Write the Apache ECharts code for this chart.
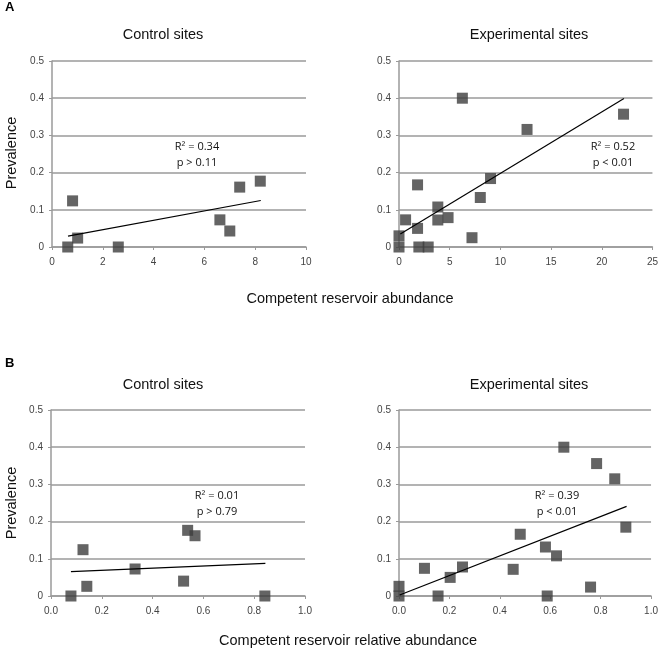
<!DOCTYPE html>
<html><head><meta charset="utf-8">
<script src="https://cdn.jsdelivr.net/npm/echarts@6/dist/echarts.min.js"></script>
<style>html,body{margin:0;padding:0;background:#fff}#c{width:661px;height:649px}</style>
</head><body><div id="c"></div>
<script>
// Panel A control: competent reservoir abundance vs prevalence
const aCtrlX = [0.62, 0.81, 1.01, 2.61, 6.61, 7.0, 7.39, 8.2];
const aCtrlY = [0, 0.124, 0.024, 0, 0.073, 0.043, 0.161, 0.177];
const aCtrlTrendX = [0.63, 8.22];
const aCtrlTrendY = [0.029, 0.125];
// Panel A experimental
const aExpX = [0, 0, 0.65, 1.83, 1.83, 1.96, 2.88, 3.83, 3.83, 4.84, 7.2, 8.02, 9.03, 6.25, 12.63, 22.15];
const aExpY = [0, 0.03, 0.073, 0.167, 0.05, 0, 0, 0.1075, 0.0726, 0.079, 0.025, 0.133, 0.184, 0.40, 0.316, 0.357];
const aExpTrendX = [0.13, 22.19];
const aExpTrendY = [0.035, 0.399];
// Panel B control: relative abundance
const bCtrlX = [0.0785, 0.126, 0.141, 0.331, 0.522, 0.538, 0.567, 0.842];
const bCtrlY = [0, 0.1245, 0.026, 0.0726, 0.040, 0.1765, 0.162, 0];
const bCtrlTrendX = [0.0785, 0.844];
const bCtrlTrendY = [0.0654, 0.0878];
// Panel B experimental
const bExpX = [0, 0, 0.101, 0.155, 0.203, 0.252, 0.453, 0.481, 0.581, 0.588, 0.625, 0.654, 0.760, 0.784, 0.856, 0.900];
const bExpY = [0, 0.026, 0.0744, 0, 0.050, 0.078, 0.0717, 0.166, 0.1317, 0, 0.108, 0.40, 0.024, 0.356, 0.315, 0.185];
const bExpTrendX = [0.0026, 0.903];
const bExpTrendY = [0.0027, 0.241];

const titles = ['Control sites', 'Experimental sites', 'Control sites', 'Experimental sites'];
const stats = [['R² = 0.34', 'p > 0.11'], ['R² = 0.52', 'p < 0.01'], ['R² = 0.01', 'p > 0.79'], ['R² = 0.39', 'p < 0.01']];
const xRanges = [[0, 10, 2], [0, 25, 5], [0, 1, 0.2], [0, 1, 0.2]];

const zip = (xs, ys) => xs.map((x, i) => [x, ys[i]]);
const panels = [
  [aCtrlX, aCtrlY, aCtrlTrendX, aCtrlTrendY],
  [aExpX, aExpY, aExpTrendX, aExpTrendY],
  [bCtrlX, bCtrlY, bCtrlTrendX, bCtrlTrendY],
  [bExpX, bExpY, bExpTrendX, bExpTrendY]
];
const grids = [
  {left: 52, top: 61, width: 254, height: 186},
  {left: 399, top: 61, width: 255, height: 186},
  {left: 51, top: 410, width: 254, height: 186},
  {left: 399, top: 410, width: 254, height: 186}
];
const gridColor = '#9a9a9a';
const labelStyle = {color: '#444', fontFamily: 'Liberation Sans, Arial', fontSize: 10};

const xAxis = xRanges.map((r, i) => ({
  type: 'value', gridIndex: i, min: r[0], max: r[1], interval: r[2],
  axisLine: {show: true, onZero: false, lineStyle: {color: gridColor, width: 1.5}},
  axisTick: {show: true, length: 3, lineStyle: {color: gridColor, width: 1}},
  splitLine: {show: false},
  axisLabel: Object.assign({margin: 10, formatter: v => (i >= 2 ? v.toFixed(1) : String(Math.round(v)))}, labelStyle)
}));
const yAxis = grids.map((g, i) => ({
  type: 'value', gridIndex: i, min: 0, max: 0.5, interval: 0.1,
  axisLine: {show: true, lineStyle: {color: gridColor, width: 1.5}},
  axisTick: {show: true, length: 3, lineStyle: {color: gridColor, width: 1}},
  splitLine: {show: true, lineStyle: {color: gridColor, width: 1.5}},
  axisLabel: Object.assign({margin: 8, formatter: v => (v === 0 ? '0' : v.toFixed(1))}, labelStyle)
}));

const series = [];
panels.forEach((p, i) => {
  series.push({
    type: 'scatter', xAxisIndex: i, yAxisIndex: i, data: zip(p[0], p[1]),
    symbol: 'rect', symbolSize: 11, itemStyle: {color: '#3d3d3d'}, z: 3
  });
  series.push({
    type: 'line', xAxisIndex: i, yAxisIndex: i, data: zip(p[2], p[3]),
    symbol: 'none', lineStyle: {color: '#000', width: 1.2}, z: 4, silent: true
  });
});

const titleCenters = [[163, 35], [529, 35], [163, 385], [529, 385]];
const statPos = [[197, 147], [613, 147], [217, 496], [557, 496]];
const graphic = [];
titleCenters.forEach((c, i) => graphic.push({
  type: 'text', x: c[0], y: c[1],
  style: {text: titles[i], fill: '#111', font: '14.5px "Liberation Sans", Arial', textAlign: 'center', textVerticalAlign: 'middle'}
}));
statPos.forEach((c, i) => {
  graphic.push({type: 'text', x: c[0], y: c[1], z: 10,
    style: {text: stats[i][0], fill: '#111', font: '11px "Open Sans", sans-serif', textAlign: 'center', textVerticalAlign: 'middle'}});
  graphic.push({type: 'text', x: c[0], y: c[1] + 16, z: 10,
    style: {text: stats[i][1], fill: '#111', font: '11px "Open Sans", sans-serif', textAlign: 'center', textVerticalAlign: 'middle'}});
});
graphic.push({type: 'text', x: 5, y: 7, style: {text: 'A', fill: '#000', font: 'bold 13px "Liberation Sans", Arial', textAlign: 'left', textVerticalAlign: 'middle'}});
graphic.push({type: 'text', x: 5, y: 363, style: {text: 'B', fill: '#000', font: 'bold 13px "Liberation Sans", Arial', textAlign: 'left', textVerticalAlign: 'middle'}});
[153, 503].forEach(y => graphic.push({type: 'text', x: 12, y: y, rotation: Math.PI / 2,
  style: {text: 'Prevalence', fill: '#111', font: '14.5px "Liberation Sans", Arial', textAlign: 'center', textVerticalAlign: 'middle'}}));
graphic.push({type: 'text', x: 350, y: 299, style: {text: 'Competent reservoir abundance', fill: '#111', font: '14.5px "Liberation Sans", Arial', textAlign: 'center', textVerticalAlign: 'middle'}});
graphic.push({type: 'text', x: 348, y: 641, style: {text: 'Competent reservoir relative abundance', fill: '#111', font: '14.5px "Liberation Sans", Arial', textAlign: 'center', textVerticalAlign: 'middle'}});

const chart = echarts.init(document.getElementById('c'), null, {renderer: 'canvas'});
chart.setOption({
  animation: false,
  backgroundColor: '#fff',
  grid: grids,
  xAxis: xAxis,
  yAxis: yAxis,
  series: series,
  graphic: graphic
});
</script></body></html>
